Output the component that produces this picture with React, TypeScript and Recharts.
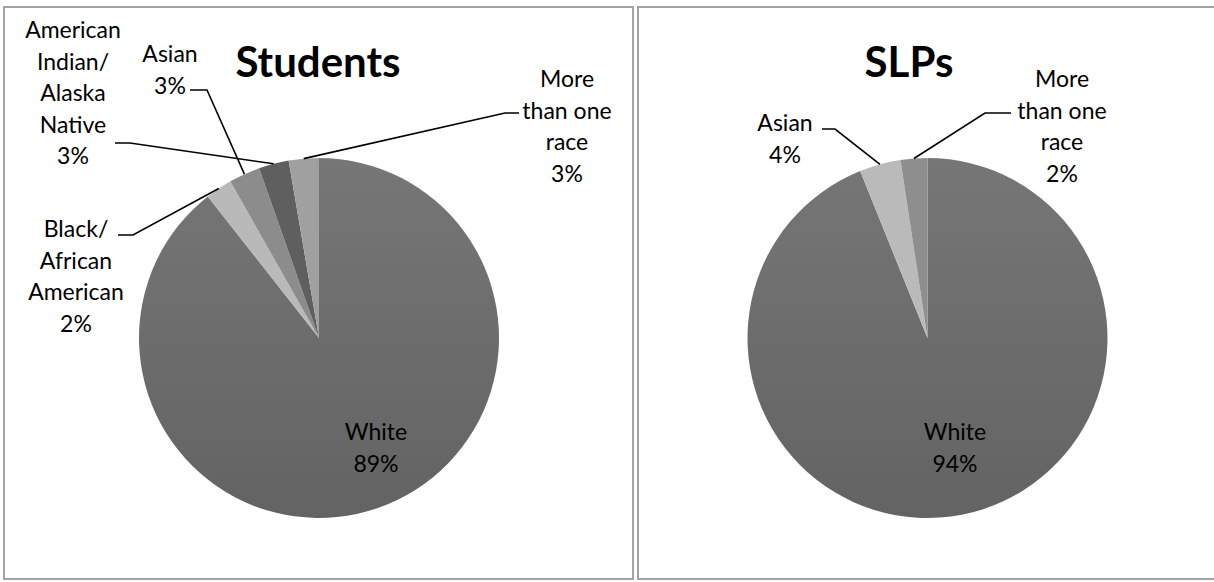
import React from 'react';
import { PieChart, Pie, Cell } from 'recharts';

// share of each race group (clockwise from 12 o'clock)
const studentGroups = ['White', 'Black/African American', 'Asian', 'American Indian/Alaska Native', 'More than one race'];
const studentShares = [89.4, 2.4, 2.8, 2.7, 2.7];

const slpGroups = ['White', 'Asian', 'More than one race'];
const slpShares = [93.9, 3.7, 2.4];

const studentColors = ['url(#whiteShade)', '#b9b9b9', '#8c8c8c', '#5f5f5f', '#a0a0a0'];
const slpColors = ['url(#whiteShade)', '#bababa', '#8e8e8e'];

const FONT = 'Lato, "Open Sans", sans-serif';
const LINE = 31.5;

type Spot = { lines: string[]; x: number; y: number; leader?: number[][] };

// where Excel put each label (chart-local px), and the bend of its leader line
const studentSpots: Record<string, Spot> = {
  'White': { lines: ['White'], x: 376, y: 440 },
  'Black/African American': { lines: ['Black/', 'African', 'American'], x: 76, y: 237, leader: [[133, 235], [118, 235]] },
  'Asian': { lines: ['Asian'], x: 170, y: 62, leader: [[207, 90], [190, 90]] },
  'American Indian/Alaska Native': { lines: ['American', 'Indian/', 'Alaska', 'Native'], x: 73, y: 38, leader: [[130, 143], [115, 143]] },
  'More than one race': { lines: ['More', 'than one', 'race'], x: 567, y: 87, leader: [[505, 113], [519, 113]] },
};

const slpSpots: Record<string, Spot> = {
  'White': { lines: ['White'], x: 319, y: 440 },
  'Asian': { lines: ['Asian'], x: 149, y: 131, leader: [[199, 129], [186, 129]] },
  'More than one race': { lines: ['More', 'than one', 'race'], x: 426, y: 87, leader: [[349, 113], [375, 113]] },
};

const studentData = studentGroups.map((group, i) => ({ group, share: studentShares[i] }));
const slpData = slpGroups.map((group, i) => ({ group, share: slpShares[i] }));

function makeLabel(spots: Record<string, Spot>) {
  return (props: any) => {
    const { cx, cy, midAngle, outerRadius, percent, name } = props;
    const spot = spots[name];
    if (!spot) return null;
    const rad = (-midAngle * Math.PI) / 180;
    const ex = cx + outerRadius * Math.cos(rad);
    const ey = cy + outerRadius * Math.sin(rad);
    const rows = [...spot.lines, `${Math.round(percent * 100)}%`];
    return (
      <g>
        {spot.leader && (
          <polyline
            points={[[ex, ey], ...spot.leader].map((p) => p.join(',')).join(' ')}
            fill="none"
            stroke="#000"
            strokeWidth={1.6}
          />
        )}
        <text x={spot.x} y={spot.y} textAnchor="middle" fontFamily={FONT} fontSize={23} fill="#000">
          {rows.map((r, i) => (
            <tspan key={i} x={spot.x} dy={i === 0 ? 0 : LINE}>
              {r}
            </tspan>
          ))}
        </text>
      </g>
    );
  };
}

export default function App() {
  return (
    <div style={{ position: 'absolute', left: 0, top: 0, width: 1214, height: 582, overflow: 'hidden', background: '#fff' }}>
      <div style={{ position: 'absolute', left: 3, top: 6, width: 631, height: 574, border: '2px solid #a3a3a3', boxSizing: 'border-box' }} />
      <div style={{ position: 'absolute', left: 637, top: 6, width: 640, height: 574, border: '2px solid #a3a3a3', boxSizing: 'border-box' }} />

      <svg width={1214} height={582} style={{ position: 'absolute', left: 0, top: 0 }}>
        <defs>
          <linearGradient id="whiteShade" x1="0" y1="0" x2="0" y2="1">
            <stop offset="0%" stopColor="#767676" />
            <stop offset="100%" stopColor="#636363" />
          </linearGradient>
        </defs>
        <text x={318} y={77} textAnchor="middle" fontFamily={FONT} fontWeight="bold" fontSize={42} fill="#000">
          Students
        </text>
        <text x={909} y={77} textAnchor="middle" fontFamily={FONT} fontWeight="bold" fontSize={42} fill="#000">
          SLPs
        </text>
      </svg>

      <div style={{ position: 'absolute', left: 0, top: 0 }}>
        <PieChart width={636} height={582}>
          <Pie
            data={studentData}
            dataKey="share"
            nameKey="group"
            cx={314}
            cy={333}
            outerRadius={180}
            startAngle={90}
            endAngle={-270}
            stroke="none"
            label={makeLabel(studentSpots)}
            labelLine={false}
            isAnimationActive={false}
          >
            {studentData.map((d, i) => (
              <Cell key={d.group} fill={studentColors[i]} />
            ))}
          </Pie>
        </PieChart>
      </div>

      <div style={{ position: 'absolute', left: 636, top: 0 }}>
        <PieChart width={578} height={582}>
          <Pie
            data={slpData}
            dataKey="share"
            nameKey="group"
            cx={286.5}
            cy={333}
            outerRadius={180}
            startAngle={90}
            endAngle={-270}
            stroke="none"
            label={makeLabel(slpSpots)}
            labelLine={false}
            isAnimationActive={false}
          >
            {slpData.map((d, i) => (
              <Cell key={d.group} fill={slpColors[i]} />
            ))}
          </Pie>
        </PieChart>
      </div>
    </div>
  );
}
